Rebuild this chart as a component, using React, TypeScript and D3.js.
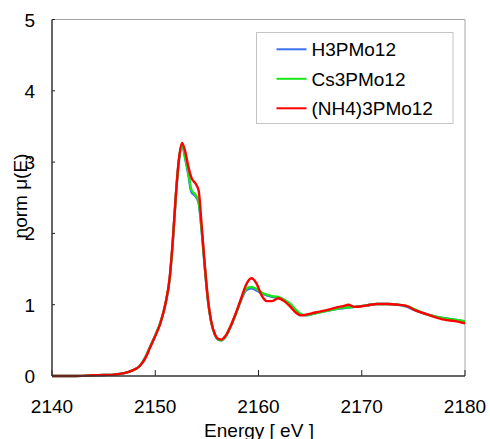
import React from "react";
import * as d3 from "d3";

const energies = [
  2140, 2142, 2144, 2145, 2146, 2147, 2147.8, 2148.5, 2149, 2149.5, 2150, 2150.5, 2151, 2151.4, 2151.7,
  2152, 2152.3, 2152.6, 2152.9, 2153.2, 2153.5, 2153.9, 2154.2, 2154.5, 2154.8, 2155.1, 2155.4, 2155.8,
  2156.1, 2156.4, 2156.8, 2157.3, 2157.8, 2158.3, 2158.8, 2159.3, 2159.8, 2160.3, 2160.8, 2161.3, 2161.9,
  2162.5, 2163.1, 2163.6, 2164.1, 2164.6, 2165.5, 2166.5, 2167.5, 2168.2, 2168.7, 2169.3, 2170.5, 2171.5,
  2172.5, 2173.5, 2174.4, 2175.2, 2176, 2177, 2178, 2179, 2180,
];

const h3pmo12 = [
  0.0, 0.0, 0.01, 0.015, 0.02, 0.04, 0.08, 0.14, 0.25, 0.41, 0.57, 0.75, 1.02, 1.37, 1.88,
  2.53, 3.03, 3.24, 3.05, 2.83, 2.58, 2.52, 2.43, 2.03, 1.52, 1.06, 0.77, 0.57,
  0.51, 0.50, 0.55, 0.69, 0.87, 1.06, 1.2, 1.23, 1.2, 1.16, 1.13, 1.11, 1.1,
  1.06, 1.0, 0.92, 0.86, 0.85, 0.88, 0.91, 0.94, 0.95, 0.96, 0.97, 0.99, 1.01,
  1.01, 1.0, 0.97, 0.92, 0.88, 0.84, 0.81, 0.79, 0.76,
];

const cs3pmo12 = [
  0.0, 0.0, 0.01, 0.015, 0.02, 0.04, 0.08, 0.14, 0.25, 0.41, 0.57, 0.75, 1.02, 1.37, 1.89,
  2.54, 3.04, 3.25, 3.06, 2.86, 2.61, 2.54, 2.45, 2.05, 1.53, 1.07, 0.77, 0.57,
  0.51, 0.50, 0.55, 0.69, 0.87, 1.07, 1.22, 1.25, 1.22, 1.17, 1.14, 1.12, 1.11,
  1.07, 1.01, 0.93, 0.87, 0.85, 0.88, 0.91, 0.94, 0.96, 0.96, 0.97, 0.99, 1.01,
  1.01, 1.0, 0.98, 0.93, 0.88, 0.84, 0.81, 0.79, 0.77,
];

const nh4pmo12 = [
  0.0, 0.0, 0.01, 0.015, 0.02, 0.04, 0.08, 0.14, 0.24, 0.4, 0.56, 0.74, 1.02, 1.38, 1.9,
  2.55, 3.05, 3.27, 3.15, 2.94, 2.78, 2.7, 2.6, 2.1, 1.55, 1.08, 0.78, 0.58,
  0.52, 0.51, 0.56, 0.7, 0.88, 1.08, 1.28, 1.37, 1.3, 1.13, 1.05, 1.05, 1.09,
  1.05, 0.97, 0.89, 0.85, 0.86, 0.89, 0.92, 0.96, 0.98, 1.0, 0.97, 0.99, 1.01,
  1.01, 1.0, 0.98, 0.92, 0.88, 0.83, 0.79, 0.77, 0.74,
];

const seriesNames = ["H3PMo12", "Cs3PMo12", "(NH4)3PMo12"];
const seriesValues = [h3pmo12, cs3pmo12, nh4pmo12];
const seriesColors = ["#3a6ff0", "#19e619", "#ff0000"];

const xTicks = [2140, 2150, 2160, 2170, 2180];
const yTicks = [0, 1, 2, 3, 4, 5];

const W = 490;
const H = 439;
const L = 52, R = 465, T = 19.5, B = 376;
const FONT = "'Liberation Sans', Arial, sans-serif";

export default function App() {
  const x = d3.scaleLinear().domain([2140, 2180]).range([L, R]);
  const y = d3.scaleLinear().domain([0, 5]).range([B, T]);
  const line = d3
    .line<number>()
    .x((_, i) => x(energies[i]))
    .y((d) => y(d))
    .curve(d3.curveMonotoneX);

  return (
    <svg width={W} height={H} style={{ position: "absolute", left: 0, top: 0 }} fontFamily={FONT}>
      <rect x={0} y={0} width={W} height={H} fill="#fff" />
      {/* frame */}
      <line x1={L} x2={R} y1={T} y2={T} stroke="#a6a6a6" strokeWidth={1} />
      <line x1={R} x2={R} y1={T} y2={B} stroke="#a6a6a6" strokeWidth={1} />
      {/* ticks */}
      {xTicks.map((t) => (
        <g key={"x" + t}>
          <line x1={x(t)} x2={x(t)} y1={B} y2={B - 6} stroke="#222" strokeWidth={1} />
          <text x={x(t)} y={413} textAnchor="middle" fontSize={19} fill="#000">
            {t}
          </text>
        </g>
      ))}
      {yTicks.map((t) => (
        <g key={"y" + t}>
          <line x1={L} x2={L + 3} y1={y(t)} y2={y(t)} stroke="#222" strokeWidth={1} />
          <text x={35} y={y(t) + 7} textAnchor="end" fontSize={19} fill="#000">
            {t}
          </text>
        </g>
      ))}
      {/* series */}
      {seriesValues.map((vals, i) => (
        <path key={i} d={line(vals) || ""} fill="none" stroke={seriesColors[i]} strokeWidth={2.4} strokeLinejoin="round" />
      ))}
      <line x1={L} x2={L} y1={T} y2={B} stroke="#333" strokeWidth={1.5} />
      <line x1={L} x2={R} y1={B} y2={B} stroke="#333" strokeWidth={1.5} />
      {/* legend */}
      <rect x={256.5} y={32.5} width={196.5} height={91} fill="#fff" stroke="#c4c4c4" strokeWidth={1} />
      {seriesNames.map((n, i) => (
        <g key={n}>
          <line x1={276.5} x2={306.5} y1={49.3 + i * 29.5} y2={49.3 + i * 29.5} stroke={seriesColors[i]} strokeWidth={2} />
          <text x={311.5} y={56 + i * 29.5} fontSize={19} fill="#000">
            {n}
          </text>
        </g>
      ))}
      {/* axis titles */}
      <text x={259} y={436.5} textAnchor="middle" fontSize={19} fill="#000">
        Energy [ eV ]
      </text>
      <text transform="translate(27,196) rotate(-90)" textAnchor="middle" fontSize={19} fill="#000">
        norm μ(E)
      </text>
    </svg>
  );
}
